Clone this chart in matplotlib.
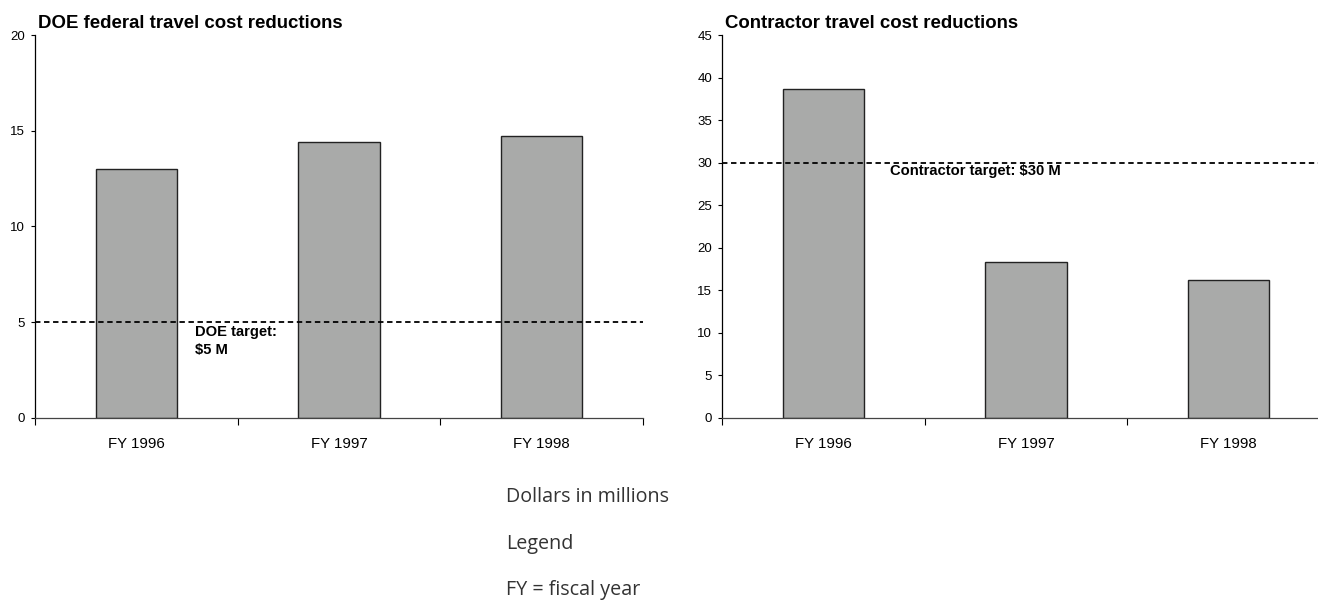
import matplotlib
matplotlib.use("Agg")
import matplotlib.pyplot as plt
import numpy as np

categories = ["FY 1996", "FY 1997", "FY 1998"]
doe_values = [13.0, 14.4, 14.7]
contractor_values = [38.7, 18.3, 16.2]
doe_target = 5
contractor_target = 30
doe_ticks = [0, 5, 10, 15, 20]
contractor_ticks = [0, 5, 10, 15, 20, 25, 30, 35, 40, 45]
notes = ["Dollars in millions", "Legend", "FY = fiscal year"]

plt.rcParams['font.family'] = ['Liberation Sans', 'DejaVu Sans']

W, H = 1318, 602
fig = plt.figure(figsize=(W / 100, H / 100), dpi=100)

def make_axes(left_px, title, values, target, ticks, ymax, label, label_xy):
    ax = fig.add_axes([left_px / W, (H - 418) / H, 608 / W, 383 / H])
    x = np.arange(len(categories))
    ax.bar(x, values, width=0.4, color="#a9aaa9", edgecolor="#222222", linewidth=1.0, zorder=2)
    ax.axhline(target, color="black", linestyle=(0, (3, 2)), linewidth=1.3, zorder=3, clip_on=False)
    ax.set_xlim(-0.5, len(categories) - 0.5)
    ax.set_ylim(0, ymax)
    ax.set_yticks(ticks)
    ax.set_yticklabels([str(t) for t in ticks], fontsize=9.5)
    ax.set_xticks(x)
    ax.set_xticklabels(categories, fontsize=10.8)
    ax.set_xticks(np.arange(-0.5, len(categories)), minor=True)
    ax.tick_params(axis="x", which="major", length=0, pad=14)
    ax.tick_params(axis="x", which="minor", length=5, width=0.8, direction="out")
    ax.tick_params(axis="y", length=3, width=0.8, direction="out", pad=4)
    for s in ["top", "right"]:
        ax.spines[s].set_visible(False)
    ax.spines["left"].set_linewidth(0.9)
    ax.spines["bottom"].set_linewidth(0.9)
    ax.spines["bottom"].set_color("#444444")
    ax.set_title(title, loc="left", fontsize=13.4, fontweight="bold", pad=5, x=0.005)
    ax.text(label_xy[0], label_xy[1], label, fontsize=10.6, fontweight="bold", va="top", ha="left",
            linespacing=1.35)
    return ax

make_axes(35, "DOE federal travel cost reductions", doe_values, doe_target, doe_ticks, 20,
          "DOE target:\n$5 M", (0.29, 4.85))
make_axes(722, "Contractor travel cost reductions", contractor_values, contractor_target,
          contractor_ticks, 45, "Contractor target: $30 M", (0.33, 29.8))

for i, t in enumerate(notes):
    fig.text(506 / W, 1 - (502 + 46.5 * i) / H, t, fontsize=14.2, color="#333333",
             va="baseline", ha="left", family=["Open Sans", "DejaVu Sans"])

fig.savefig("out.png", dpi=100)
